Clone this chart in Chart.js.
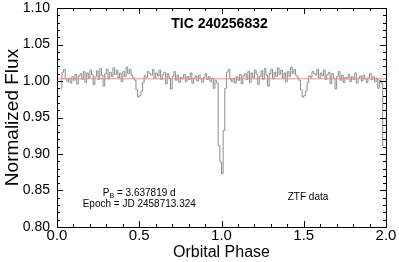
<!DOCTYPE html>
<html>
<head>
<meta charset="utf-8">
<script src="https://cdn.jsdelivr.net/npm/chart.js@4.4.1/dist/chart.umd.min.js"></script>
<style>
  html, body { margin: 0; padding: 0; background: #fff; }
  #wrap { width: 399px; height: 262px; }
</style>
</head>
<body>
<div id="wrap"><canvas id="lc" width="399" height="262"></canvas></div>
<script>
const starName = 'TIC 240256832';
const periodValue = ' = 3.637819 d';
const epochText = 'Epoch = JD 2458713.324';
const sourceText = 'ZTF data';

const xTicks = [0.0, 0.5, 1.0, 1.5, 2.0];
const yTicks = [0.80, 0.85, 0.90, 0.95, 1.00, 1.05, 1.10];

// one folded cycle, bins of 0.01 in phase (bin k centred on 0.005 + 0.01k)
const binWidth = 0.01;
const fluxCycle = [
  0.873, 0.932, 0.990, 1.012, 1.016, 1.003, 0.999, 1.004, 0.997, 1.006,
  1.001, 1.009, 0.996, 1.007, 1.010, 1.002, 1.013, 0.998, 1.011, 1.004,
  1.015, 1.009, 0.995, 1.006, 1.014, 1.002, 1.017, 1.008, 0.993, 1.010,
  1.016, 1.003, 1.012, 1.006, 1.018, 1.009, 1.015, 1.004, 1.011, 0.999,
  1.013, 1.006, 1.019, 1.010, 1.016, 1.008, 1.005, 1.001, 0.988, 0.978,
  0.980, 0.986, 0.998, 1.007, 1.005, 1.013, 1.010, 1.008, 1.016, 1.004,
  1.011, 1.007, 1.015, 1.002, 1.009, 1.012, 0.996, 1.010, 1.004, 0.989,
  1.006, 1.013, 1.001, 1.008, 0.998, 1.005, 1.003, 1.009, 0.999, 1.006,
  1.002, 1.011, 0.997, 1.004, 1.007, 1.000, 1.008, 1.003, 0.998, 1.005,
  1.010, 1.002, 1.006, 0.999, 1.004, 0.990, 1.001, 0.997, 0.911, 0.889
];
const firstBin = 2;    // plotted from phase 0.025
const lastBin = 198;   // to phase 1.985
const baseline = 1.003;

const lightCurve = [];
for (let k = firstBin; k <= lastBin; k++) {
  lightCurve.push({ x: (k + 0.5) * binWidth, y: fluxCycle[k % fluxCycle.length] });
}

const sansFont = "'Liberation Sans', 'Helvetica', sans-serif";

const frameAndText = {
  id: 'frameAndText',
  afterDraw(chart) {
    const { ctx, chartArea: a, scales: { x, y } } = chart;
    ctx.save();
    ctx.strokeStyle = '#000';
    ctx.lineWidth = 1;
    ctx.strokeRect(Math.round(a.left) + 0.5, Math.round(a.top) + 0.5,
      Math.round(a.right - a.left), Math.round(a.bottom - a.top));

    // inward ticks on all four sides
    ctx.beginPath();
    for (let i = 0; i <= 20; i++) {
      const px = Math.round(x.getPixelForValue(i / 10)) + 0.5;
      const len = i % 5 === 0 ? 6 : 3;
      ctx.moveTo(px, a.bottom); ctx.lineTo(px, a.bottom - len);
      ctx.moveTo(px, a.top); ctx.lineTo(px, a.top + len);
    }
    for (let i = 0; i <= 30; i++) {
      const py = Math.round(y.getPixelForValue(0.8 + i / 100)) + 0.5;
      const len = i % 5 === 0 ? 6 : 3;
      ctx.moveTo(a.left, py); ctx.lineTo(a.left + len, py);
      ctx.moveTo(a.right, py); ctx.lineTo(a.right - len, py);
    }
    ctx.stroke();

    ctx.fillStyle = '#000';
    ctx.textBaseline = 'alphabetic';
    ctx.textAlign = 'center';
    ctx.font = `bold 14px ${sansFont}`;
    ctx.fillText(starName, x.getPixelForValue(1.0) - 2, a.top + 20);

    // P_B line with subscript
    ctx.textAlign = 'left';
    const cx = x.getPixelForValue(0.5);
    const base = y.getPixelForValue(0.848) + 4;
    ctx.font = `10px ${sansFont}`;
    const wP = ctx.measureText('P').width;
    const wRest = ctx.measureText(periodValue).width;
    ctx.font = `7px ${sansFont}`;
    const wB = ctx.measureText('B').width;
    const x0 = cx - (wP + wB + wRest) / 2;
    ctx.font = `10px ${sansFont}`;
    ctx.fillText('P', x0, base);
    ctx.font = `7px ${sansFont}`;
    ctx.fillText('B', x0 + wP, base + 2);
    ctx.font = `10px ${sansFont}`;
    ctx.fillText(periodValue, x0 + wP + wB, base);

    ctx.textAlign = 'center';
    ctx.fillText(epochText, cx, y.getPixelForValue(0.833) + 4);
    ctx.fillText(sourceText, x.getPixelForValue(1.526), y.getPixelForValue(0.842) + 4);
    ctx.restore();
  }
};

new Chart(document.getElementById('lc'), {
  type: 'line',
  data: {
    datasets: [
      {
        data: [{ x: 0, y: baseline }, { x: 2, y: baseline }],
        borderColor: 'rgb(238,140,140)',
        borderWidth: 1,
        pointRadius: 0
      },
      {
        data: lightCurve,
        borderColor: '#8c8c8c',
        borderWidth: 1,
        pointRadius: 0,
        stepped: 'middle'
      }
    ]
  },
  options: {
    responsive: false,
    animation: false,
    events: [],
    layout: { padding: { top: 8, right: 13, left: 0, bottom: 0 } },
    plugins: { legend: { display: false }, tooltip: { enabled: false } },
    scales: {
      x: {
        type: 'linear',
        min: 0, max: 2,
        afterBuildTicks: s => { s.ticks = xTicks.map(v => ({ value: v })); },
        afterFit: s => { s.height = 35; s.paddingLeft = 0; s.paddingRight = 0; },
        grid: { display: false, drawTicks: false },
        border: { display: false },
        ticks: { font: { family: sansFont, size: 15, lineHeight: 1 }, color: '#000', padding: 1,
                 maxRotation: 0, autoSkip: false, callback: v => v.toFixed(1) },
        title: { display: true, text: 'Orbital Phase', color: '#000',
                 font: { family: sansFont, size: 16 }, padding: 0 }
      },
      y: {
        type: 'linear',
        min: 0.8, max: 1.1,
        afterBuildTicks: s => { s.ticks = yTicks.map(v => ({ value: v })); },
        afterFit: s => { s.width = 57; s.paddingTop = 0; s.paddingBottom = 0; },
        grid: { display: false, drawTicks: false },
        border: { display: false },
        ticks: { font: { family: sansFont, size: 14, lineHeight: 1 }, color: '#000', padding: 7,
                 autoSkip: false, callback: v => v.toFixed(2) },
        title: { display: true, text: 'Normalized Flux', color: '#000',
                 font: { family: sansFont, size: 19 }, padding: { top: 1, bottom: 0 } }
      }
    }
  },
  plugins: [frameAndText]
});
</script>
</body>
</html>
